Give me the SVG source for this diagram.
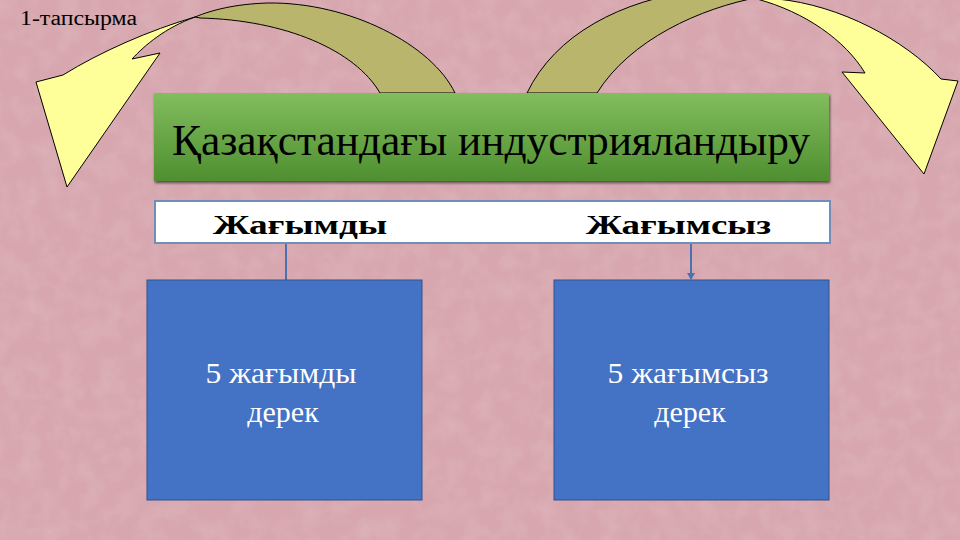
<svg xmlns="http://www.w3.org/2000/svg" width="960" height="540" viewBox="0 0 960 540">
<defs>
<style>
.arrow{stroke:#000;stroke-width:1;stroke-linejoin:miter}
.olive{fill:#bab56c}
.yellow{fill:#ffff99}
.serif{font-family:"Liberation Serif","Times New Roman",serif}
.blue{fill:#4472c4;stroke:#2f528f;stroke-width:1}
.wt{fill:#fff;font-size:30px;text-anchor:middle}
.hd{font-size:28px;font-weight:bold;fill:#000}
.conn{stroke:#4a72b0;stroke-width:2;fill:none}
</style>
<linearGradient id="g" x1="0" y1="0" x2="0" y2="1">
<stop offset="0" stop-color="#82bd5e"/>
<stop offset="1" stop-color="#4f8f30"/>
</linearGradient>
<filter id="noise" x="0" y="0" width="100%" height="100%">
<feTurbulence type="fractalNoise" baseFrequency="0.05" numOctaves="3" seed="4"/>
<feColorMatrix type="matrix" values="0 0 0 0 1  0 0 0 0 1  0 0 0 0 1  0.6 0 0 0 -0.2"/>
</filter>
<filter id="sh" x="-5%" y="-5%" width="110%" height="120%">
<feDropShadow dx="1" dy="2" stdDeviation="1.5" flood-color="#000" flood-opacity="0.6"/>
</filter>
<marker id="ah" markerWidth="8" markerHeight="8" refX="6" refY="4" orient="auto" markerUnits="userSpaceOnUse">
<path d="M0,0 L7,4 L0,8 Z" fill="#4a72b0"/>
</marker>
</defs>
<rect width="960" height="540" fill="#d7a6ae"/>
<rect width="960" height="540" filter="url(#noise)" opacity="0.35"/>

<g id="label-task">
<text class="serif" x="20" y="25" font-size="20" textLength="117" lengthAdjust="spacingAndGlyphs">1-тапсырма</text>
</g>

<g id="left-arrow">
<path class="arrow olive" d="M455,93 C432,45 350,2 268,3 C235,4 212,10 195,17 L200,18 C285,20 355,50 380,93 Z"/>
<path class="arrow yellow" d="M195,17 C150,30 100,52 63,75 L36,82 L67,187 L160,53 L132,59 C145,45 165,28 195,17 Z"/>
</g>

<g id="right-arrow">
<path class="arrow olive" d="M527,93 C555,35 620,0 700,-10 L760,-3 C700,8 630,40 597,93 Z"/>
<path class="arrow yellow" d="M777,-1 C840,5 905,40 941,79 L958,81 L924,174 L842,72 L865,73 C845,40 805,12 757,-1 Z"/>
</g>

<g id="title">
<rect x="154" y="93" width="675" height="88" fill="url(#g)" filter="url(#sh)"/>
<text class="serif" x="491" y="155" font-size="44" text-anchor="middle" textLength="638" lengthAdjust="spacingAndGlyphs">Қазақстандағы индустрияландыру</text>
</g>

<g id="header">
<rect x="155" y="201" width="675" height="42" fill="#fff" stroke="#6f8fb8" stroke-width="2"/>
<text class="serif hd" x="213" y="234" textLength="174" lengthAdjust="spacingAndGlyphs">Жағымды</text>
<text class="serif hd" x="586" y="234" textLength="185" lengthAdjust="spacingAndGlyphs">Жағымсыз</text>
</g>

<g id="connectors">
<line class="conn" x1="286" y1="244" x2="286" y2="280"/>
<line class="conn" x1="691" y1="244" x2="691" y2="279" marker-end="url(#ah)"/>
</g>

<g id="box-positive">
<rect class="blue" x="147" y="280" width="275" height="220"/>
<text class="serif wt" x="281" y="383" textLength="151" lengthAdjust="spacingAndGlyphs">5 жағымды</text>
<text class="serif wt" x="283" y="422">дерек</text>
</g>

<g id="box-negative">
<rect class="blue" x="554" y="280" width="275" height="220"/>
<text class="serif wt" x="688" y="383" textLength="161" lengthAdjust="spacingAndGlyphs">5 жағымсыз</text>
<text class="serif wt" x="690" y="422">дерек</text>
</g>
</svg>
